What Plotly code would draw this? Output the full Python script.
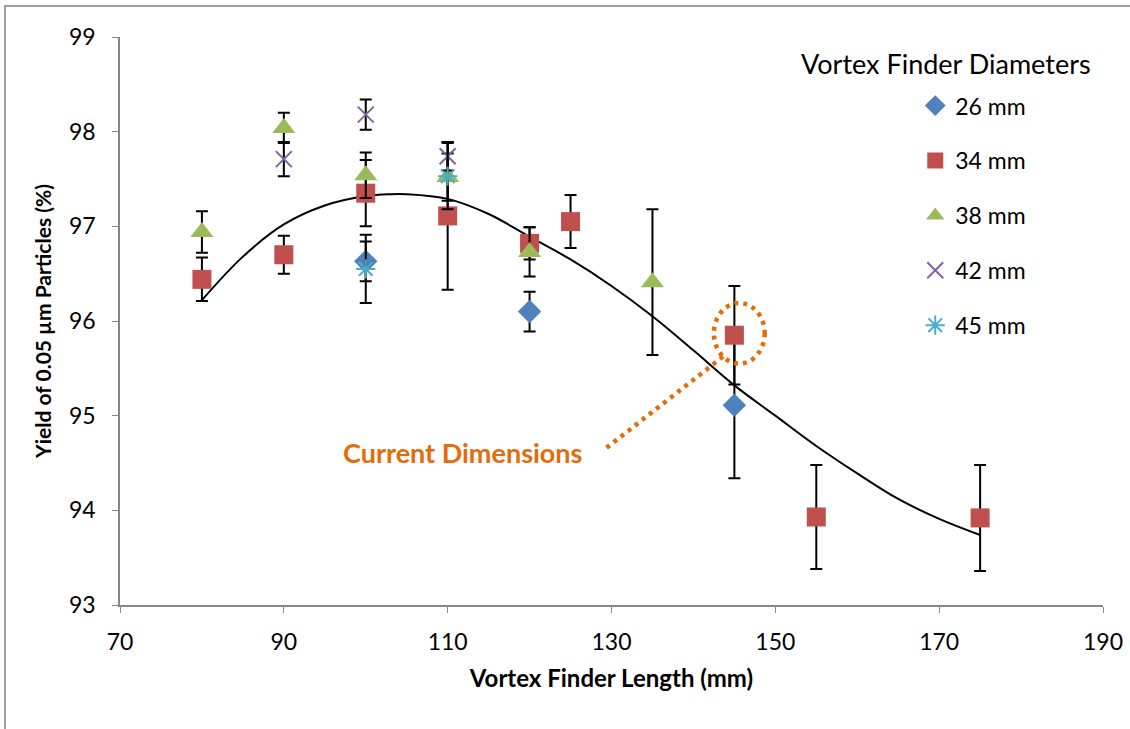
import plotly.graph_objects as go

# ---- data ----
x26 = [100, 120, 145]
y26 = [96.63, 96.10, 95.11]
e26 = [0.21, 0.21, 0.77]

x34 = [80, 90, 100, 110, 120, 125, 145, 155, 175]
y34 = [96.44, 96.70, 97.35, 97.11, 96.82, 97.05, 95.85, 93.93, 93.92]
e34 = [0.23, 0.20, 0.35, 0.78, 0.17, 0.28, 0.52, 0.55, 0.56]

x38 = [80, 90, 100, 110, 120, 135]
y38 = [96.94, 98.04, 97.54, 97.52, 96.73, 96.41]
e38 = [0.22, 0.16, 0.24, 0.25, 0.26, 0.77]

x42 = [90, 100, 110]
y42 = [97.71, 98.18, 97.74]
e42 = [0.18, 0.16, 0.15]

x45 = [100, 110]
y45 = [96.55, 97.53]
e45 = [0.36, 0.35]

# trendline
trend_x = [80, 85, 90, 95, 100, 103, 105, 110, 115, 120, 125, 130, 135, 140, 145, 150, 155, 160, 165, 170, 175]
trend_y = [96.22, 96.68, 97.02, 97.22, 97.32, 97.34, 97.34, 97.29, 97.13, 96.89, 96.65, 96.37, 96.05, 95.69, 95.32, 95.00, 94.68, 94.39, 94.12, 93.91, 93.74]

series = [
    ("26 mm", x26, y26, e26, "diamond", "#4F81BD", 18),
    ("34 mm", x34, y34, e34, "square", "#C0504D", 19),
    ("38 mm", x38, y38, e38, "triangle-up", "#9BBB59", 20),
    ("42 mm", x42, y42, e42, "x-thin", "#8064A2", 16),
    ("45 mm", x45, y45, e45, "asterisk", "#4BACC6", 16),
]

FONT = "Lato"
ORANGE = "#E46C0A"
fig = go.Figure()

fig.add_trace(go.Scatter(x=trend_x, y=trend_y, mode="lines", line=dict(color="black", width=2, shape="spline"),
                         showlegend=False, hoverinfo="skip"))

for i, (name, xs, ys, es, sym, col, sz) in enumerate(series):
    marker = dict(symbol=sym, color=col, size=sz)
    if sym in ("x-thin", "asterisk"):
        marker["line"] = dict(color=col, width=2)
    fig.add_trace(go.Scatter(
        x=xs, y=ys, mode="markers", name=name, legendgroup=name,
        marker=marker,
        error_y=dict(type="data", array=es, visible=True, color="black", thickness=2, width=6),
    ))

fig.update_layout(
    width=1130, height=729,
    paper_bgcolor="white", plot_bgcolor="white",
    margin=dict(l=120, r=27, t=37, b=124),
    font=dict(family=FONT, size=22, color="black"),
    legend=dict(x=0.809, y=0.917, xanchor="left", yanchor="top", font=dict(size=23, family=FONT),
                tracegroupgap=22, bgcolor="rgba(0,0,0,0)", itemwidth=30),
    xaxis=dict(range=[70, 190], tickvals=[70, 90, 110, 130, 150, 170, 190], showgrid=False, zeroline=False,
               showline=True, linecolor="#868686", linewidth=1.5, ticks="outside", tickcolor="#868686",
               ticklen=6, tickfont=dict(size=23, family=FONT), ticklabelstandoff=10, automargin=False,
               title=dict(text="<b>Vortex Finder Length (mm)</b>", font=dict(size=24, family=FONT), standoff=16)),
    yaxis=dict(range=[93, 99], dtick=1, showgrid=False, zeroline=False,
               showline=True, linecolor="#868686", linewidth=1.5, ticks="outside", tickcolor="#868686",
               ticklen=6, tickfont=dict(size=23, family=FONT), ticklabelstandoff=12, automargin=False,
               title=dict(text="<b>Yield of 0.05 µm Particles (%)</b>", font=dict(size=21, family=FONT), standoff=12)),
)

# legend title
fig.add_annotation(xref="paper", yref="paper", x=0.99, y=0.954, xanchor="right", yanchor="middle",
                   text="Vortex Finder Diameters", showarrow=False, font=dict(size=27, family=FONT))

# Current Dimensions annotation
fig.add_shape(type="circle", xref="x", yref="y", x0=142.5, x1=148.7, y0=95.55, y1=96.19,
              line=dict(color=ORANGE, width=4.5, dash="4px,5px"))
fig.add_shape(type="line", xref="x", yref="y", x0=129.4, y0=94.66, x1=143.85, y1=95.64,
              line=dict(color=ORANGE, width=4.5, dash="4px,5px"))
fig.add_annotation(xref="x", yref="y", x=111.8, y=94.61, text="<b>Current Dimensions</b>", showarrow=False,
                   font=dict(size=27, family=FONT, color=ORANGE))

# outer chart border
fig.add_shape(type="rect", xref="paper", yref="paper", x0=-0.117, x1=1.2, y0=-0.3, y1=1.0546,
              line=dict(color="#A0A0A0", width=2), fillcolor="rgba(0,0,0,0)", layer="below")

fig.write_html("out.html", config={"displayModeBar": False},
               post_script="document.body.style.margin='0';")
